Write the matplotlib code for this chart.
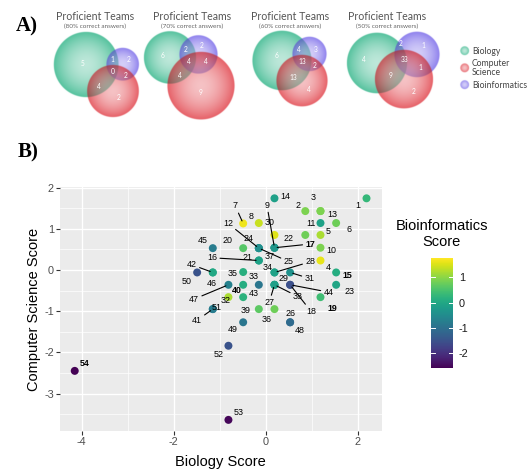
import numpy as np
import matplotlib
matplotlib.use("Agg")
import matplotlib.pyplot as plt
from matplotlib.colors import Normalize

# ---------------- Panel B data ----------------
team = list(range(1, 55))
bio_score = [2.19, 0.86, 1.19, 1.19, 1.19, 1.53, -0.49, -0.15, 0.19, 1.19,
             1.19, -0.15, 1.19, 0.19, 1.53, -0.15, 0.19, 0.53, 1.19, -0.49,
             -0.15, 0.86, 1.53, -0.15, -0.15, 0.53, 0.19, 0.19, 0.19, 0.19,
             0.53, -0.81, -0.15, 0.19, -0.49, 0.19, 0.19, 0.19, -0.15, -0.49,
             -1.15, -1.15, -0.49, 0.53, -1.15, -1.15, -0.81, 0.53, -0.49, -1.49,
             -1.15, -0.81, -0.81, -4.15]
cs_score = [1.74, 1.43, 1.43, 0.23, 0.85, 1.14, 1.13, 1.14, 0.54, 0.54,
            1.14, 0.53, 1.43, 1.74, -0.06, 0.23, 0.54, -0.36, -0.66, 0.53,
            0.23, 0.85, -0.36, 0.53, 0.53, -1.27, -0.36, -0.06, -0.36, 0.85,
            -0.06, -0.66, -0.36, -0.06, -0.05, -0.95, 0.54, -0.36, -0.95, -0.36,
            -0.95, -0.06, -0.66, -0.36, 0.53, -0.06, -0.36, -1.27, -1.27, -0.06,
            -0.95, -1.84, -3.64, -2.45]
binf_score = [0.30, 0.90, 0.90, 1.60, 1.20, 0.80, 1.65, 1.40, -0.30, 0.90,
              -0.10, -0.45, 0.90, -0.15, 0.10, -0.10, -0.30, -1.55, 0.40, 0.60,
              -0.10, 0.80, -0.05, -0.45, -0.45, -1.10, -0.15, -0.10, -0.15, 1.55,
              -0.40, 1.20, -0.90, -0.10, 0.15, 0.80, -0.30, -0.15, 0.65, 0.10,
              -0.80, 0.00, 0.20, -1.55, -0.80, 0.00, -0.70, -1.10, -0.90, -1.50,
              -0.80, -1.50, -2.55, -2.62]
bold_teams = [15, 17, 19, 40, 54]

# label placement (pixel offsets from the point: right, up) and segment flags
label_dx = [-8.4, -7.6, -7.6, 8, 8, 13, -8, -7.7, -7.6, 10.7,
            -9.6, -31, 11.4, 10.7, 11.3, -46.6, 35.7, 21, 12, -16,
            -11.6, -16.3, 13, -10.3, 29.7, 0, -5.3, 35.7, 9, -5.3,
            19.3, -3, -5.3, -6.6, -10.6, -7.6, -5.3, 23.4, -13.3, -6.5,
            -16, -21, 10.7, 38.3, -10.4, -1, -34.3, 10, -10, -10.6,
            4, -10, 10, 10]
label_dy = [-6.7, 5.3, 13.7, -7, 3.3, -6, 17.6, 7, 42.7, -3,
            0, 25, -3.3, 1.6, -2.7, 2.7, 3.7, -26.7, -11.3, 7.6,
            3.3, -4, -6.7, 9.3, -13.4, 8.3, -17.7, 10.6, 6, 12.7,
            -6, -3.5, 8.3, 5, -1.6, -10.3, -8.3, -11.7, -1, -5.6,
            -11.4, 7.7, 3.7, -7.3, 7.6, -10.6, -14.3, -8.4, -7.7, -9,
            1.5, -9, 7.3, 7]
segment_teams = [7, 9, 12, 16, 17, 18, 25, 27, 28, 31, 38, 41, 42, 44, 47]

cbar_ticks = [-2, -1, 0, 1]
xticks_major = [-4, -2, 0, 2]
yticks_major = [-3, -2, -1, 0, 1, 2]

# ---------------- Panel A data ----------------
venn_titles = ["Proficient Teams"] * 4
venn_subtitles = ["(80% correct answers)", "(70% correct answers)",
                  "(60% correct answers)", "(50% correct answers)"]
# region counts: Bio only, Bio&Binf, Binf only, all three, CS&Binf, Bio&CS, CS only
venn_counts = [
    [5, 1, 2, 0, 2, 4, 2],
    [6, 2, 2, 4, 4, 4, 9],
    [6, 4, 3, 13, 2, 13, 4],
    [4, 2, 1, 33, 1, 9, 2],
]
legend_labels = ["Biology", "Computer\nScience", "Bioinformatics"]

# layout of panel A (pixel coordinates in a 528x130 strip)
venn_circles = [  # (green), (blue), (red): cx, cy, r
    [(86.2, 65, 32.8), (122.7, 64.7, 16.7), (113, 91.3, 26.3)],
    [(170, 58, 26.5), (198.5, 55, 19.5), (201, 86, 34)],
    [(282, 61, 30), (309.5, 54.5, 17.5), (302, 81, 26)],
    [(377, 63.5, 30.5), (417, 55, 23), (404, 79.5, 29.5)],
]
venn_label_pos = [
    [(82.7, 63.3), (112.7, 59.3), (128.3, 59.3), (112.7, 71.7), (125.7, 75.7), (99.3, 86), (119, 97.7)],
    [(163, 55), (186, 49), (202, 46), (189, 62), (206, 62), (180, 76), (201, 92)],
    [(277, 55), (299, 50), (316, 50), (302, 62), (315, 66), (293, 77), (309, 89)],
    [(364.3, 59.3), (400.7, 44), (423.3, 46), (404.3, 59.3), (420, 67.3), (390.7, 76), (414, 91.7)],
]
venn_title_x = [95, 192, 290, 387]
base_cols = [np.array([0.25, 0.73, 0.57]),   # biology green
             np.array([0.50, 0.44, 0.92]),   # bioinformatics purple
             np.array([0.89, 0.30, 0.33])]   # computer science red
legend_cols = [base_cols[0], base_cols[2], base_cols[1]]

W, H = 528, 470
fig = plt.figure(figsize=(W / 100, H / 100), dpi=100)
fig.patch.set_facecolor("white")

# ---------------- Panel A ----------------
AH = 130
axA = fig.add_axes([0, 1 - AH / H, 1, AH / H])
S = 3
yy, xx = np.mgrid[0:AH * S, 0:W * S]
xx = (xx + 0.5) / S
yy = (yy + 0.5) / S
img = np.ones((AH * S, W * S, 3))


def composite(img, cx, cy, r, col, alpha=0.82, mult=0.45):
    d = np.hypot(xx - cx, yy - cy) / r
    inside = np.clip((1 - d) * r / 0.9, 0, 1)[..., None]
    w = (0.62 * np.clip(1 - d ** 1.8, 0, 1))[..., None]
    c = col[None, None, :] * (1 - w) + w
    over = img * (1 - alpha) + alpha * c
    mul = img * c
    blended = (1 - mult) * over + mult * mul
    return img * (1 - inside) + blended * inside


for circ in venn_circles:
    for (cx, cy, r), col in zip(circ, base_cols):
        img = composite(img, cx, cy, r, col)
leg_y = [51.3, 68.3, 85]
for yv, col in zip(leg_y, legend_cols):
    img = composite(img, 464.7, yv, 4.8, col)

axA.imshow(img, extent=(0, W, AH, 0), interpolation="bilinear")
axA.set_xlim(0, W)
axA.set_ylim(AH, 0)
axA.axis("off")

vfont = ["Lato", "DejaVu Sans"]
for i in range(4):
    axA.text(venn_title_x[i], 17, venn_titles[i], ha="center", va="center",
             fontsize=7.6, color="#555555", family=vfont)
    axA.text(venn_title_x[i], 26.5, venn_subtitles[i], ha="center", va="center",
             fontsize=4.6, color="#666666", family=vfont)
    for (lx, ly), n in zip(venn_label_pos[i], venn_counts[i]):
        axA.text(lx, ly, str(n), ha="center", va="center", fontsize=4.8,
                 color="white", family=vfont)
leg_text_y = [51.3, 68.3, 85]
for yv, lab in zip(leg_text_y, legend_labels):
    axA.text(472, yv, lab, ha="left", va="center", fontsize=6.2,
             color="#444444", family=vfont, linespacing=1.05)

fig.text(27 / W, 1 - 26 / H, "A)", ha="center", va="center", fontsize=15,
         fontweight="bold", family="Liberation Serif")
fig.text(28.5 / W, 1 - 152 / H, "B)", ha="center", va="center", fontsize=15,
         fontweight="bold", family="Liberation Serif")

# ---------------- Panel B ----------------
plt.rcParams["font.family"] = ["Liberation Sans", "DejaVu Sans"]
pl, pr, pt, pb = 60, 381.7, 187.2, 431
ax = fig.add_axes([pl / W, 1 - pb / H, (pr - pl) / W, (pb - pt) / H])
ax.set_facecolor("#EBEBEB")
for sp in ax.spines.values():
    sp.set_visible(False)
ax.set_xlim(-4.47, 2.52)
ax.set_ylim(-3.91, 2.01)
ax.set_xticks(xticks_major)
ax.set_xticks([-3, -1, 1], minor=True)
ax.set_yticks(yticks_major)
ax.set_yticks([-3.5, -2.5, -1.5, -0.5, 0.5, 1.5], minor=True)
ax.set_xticklabels([str(t) for t in xticks_major])
ax.set_yticklabels([str(t) for t in yticks_major])
ax.grid(True, which="major", color="white", lw=0.95)
ax.grid(True, which="minor", color="white", lw=0.5)
ax.set_axisbelow(True)
ax.tick_params(which="major", length=2.6, width=0.8, color="#333333",
               labelsize=7.8, labelcolor="#4D4D4D", pad=1.8)
ax.tick_params(which="minor", length=0)

norm = Normalize(vmin=-2.62, vmax=1.76)
sc = ax.scatter(bio_score, cs_score, c=binf_score, cmap="viridis", norm=norm,
                s=33, linewidths=0, zorder=3)

for i, t in enumerate(team):
    kw = dict(xy=(bio_score[i], cs_score[i]), xytext=(label_dx[i], label_dy[i]),
              textcoords="offset pixels", ha="center", va="center",
              fontsize=6.4, color="black", zorder=4,
              fontweight="bold" if t in bold_teams else "normal")
    if t in segment_teams:
        kw["arrowprops"] = dict(arrowstyle="-", color="black", lw=0.8,
                                shrinkA=0, shrinkB=2)
    ax.annotate(str(t), **kw)

fig.text((pl + pr) / 2 / W, 1 - 461.7 / H, "Biology Score", ha="center",
         va="center", fontsize=10.5)
fig.text(34 / W, 1 - (pt + pb) / 2 / H, "Computer Science Score", ha="center",
         va="center", rotation=90, fontsize=10.5)

# colourbar
cax = fig.add_axes([430.7 / W, 1 - 368.3 / H, 22.6 / W, 110 / H])
cb = fig.colorbar(sc, cax=cax, ticks=cbar_ticks)
cb.outline.set_visible(False)
cax.tick_params(length=0, labelsize=7.8, labelcolor="#1A1A1A", pad=4)
cax.set_yticklabels([str(t) for t in cbar_ticks])
for t in cbar_ticks:
    cax.axhline(t, 0, 0.2, color="white", lw=0.7)
    cax.axhline(t, 0.8, 1, color="white", lw=0.7)
fig.text(441.7 / W, 1 - 234 / H, "Bioinformatics\nScore", ha="center",
         va="center", fontsize=10.5, linespacing=1.1)

fig.savefig("out.png", dpi=100)
